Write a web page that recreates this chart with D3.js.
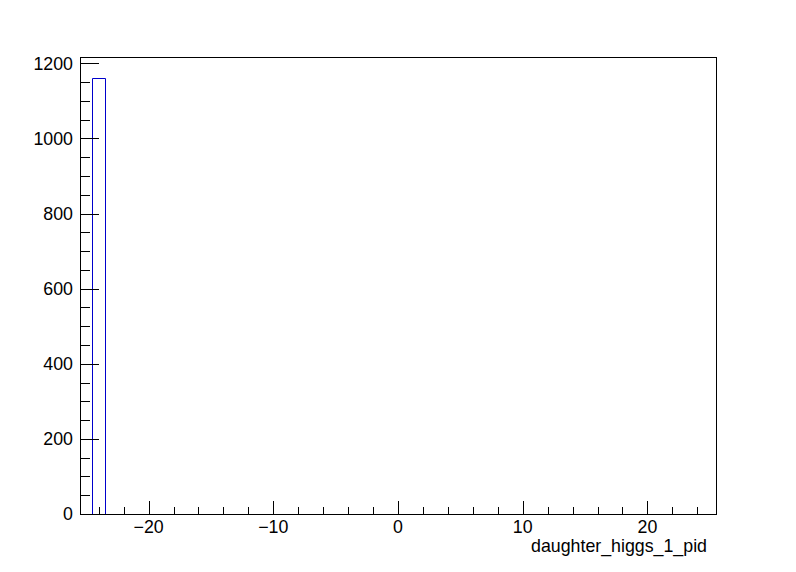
<!DOCTYPE html>
<html>
<head>
<meta charset="utf-8">
<script src="https://d3js.org/d3.v7.min.js"></script>
<style>
  body { margin: 0; background: #fff; }
  text { font-family: "Liberation Sans", Arial, sans-serif; }
</style>
</head>
<body>
<div id="chart"></div>
<script>
// histogram data: daughter_higgs_1_pid, 1-unit bins
var binLow = [-24.5];
var binHigh = [-23.5];
var binCounts = [1160];
var xTicks = [-20, -10, 0, 10, 20];
var yTicks = [0, 200, 400, 600, 800, 1000, 1200];
var xTitle = "daughter_higgs_1_pid";

var W = 796, H = 572;
var margin = {top: 57, right: 80, bottom: 58, left: 80};
var width = W - margin.left - margin.right,
    height = H - margin.top - margin.bottom;
var fs = 17.8;

var svg = d3.select("#chart").append("svg")
    .attr("width", W).attr("height", H);
var g = svg.append("g")
    .attr("transform", "translate(" + margin.left + "," + margin.top + ")");

var x = d3.scaleLinear().domain([-25.5, 25.5]).range([0, width]);
var y = d3.scaleLinear().domain([0, 1216.8]).range([height, 0]);

// bars (outline only, ROOT style)
g.selectAll("path.bar")
  .data(binCounts)
  .enter().append("path")
    .attr("class", "bar")
    .attr("fill", "none")
    .attr("stroke", "#0000cc")
    .attr("stroke-width", 1)
    .attr("d", function(d, i) {
      var x0 = Math.round(x(binLow[i])) + 0.5, x1 = Math.round(x(binHigh[i])) + 0.5;
      var y0 = Math.round(y(0)) + 0.5, y1 = Math.round(y(d)) + 0.5;
      return "M" + x0 + "," + y0 + "V" + y1 + "H" + x1 + "V" + y0;
    });

// frame
g.append("rect")
  .attr("x", 0.5).attr("y", 0.5)
  .attr("width", width).attr("height", height)
  .attr("fill", "none").attr("stroke", "#000");

// x ticks
var xMinor = d3.range(-24, 25, 2);
g.selectAll("line.xmin").data(xMinor).enter().append("line")
  .attr("x1", function(d) { return Math.round(x(d)) + 0.5; })
  .attr("x2", function(d) { return Math.round(x(d)) + 0.5; })
  .attr("y1", height).attr("y2", function(d) { return d % 10 === 0 ? height - 13 : height - 7; })
  .attr("stroke", "#000");
g.selectAll("text.xl").data(xTicks).enter().append("text")
  .attr("x", function(d) { return x(d); })
  .attr("y", height + 18.5)
  .attr("text-anchor", "middle")
  .attr("font-size", fs)
  .text(function(d) { return d < 0 ? "\u2212" + Math.abs(d) : d; });

// y ticks
var yMinor = d3.range(0, 1201, 50);
g.selectAll("line.ymin").data(yMinor).enter().append("line")
  .attr("x1", 0)
  .attr("x2", function(d) { return d % 200 === 0 ? 19 : 10; })
  .attr("y1", function(d) { return Math.round(y(d)) + 0.5; })
  .attr("y2", function(d) { return Math.round(y(d)) + 0.5; })
  .attr("stroke", "#000");
g.selectAll("text.yl").data(yTicks).enter().append("text")
  .attr("x", -7)
  .attr("y", function(d) { return y(d); })
  .attr("dy", "0.36em")
  .attr("text-anchor", "end")
  .attr("font-size", fs)
  .text(function(d) { return d; });

// axis title
g.append("text")
  .attr("x", width - 9)
  .attr("y", height + 38)
  .attr("text-anchor", "end")
  .attr("font-size", fs)
  .text(xTitle);
</script>
</body>
</html>
